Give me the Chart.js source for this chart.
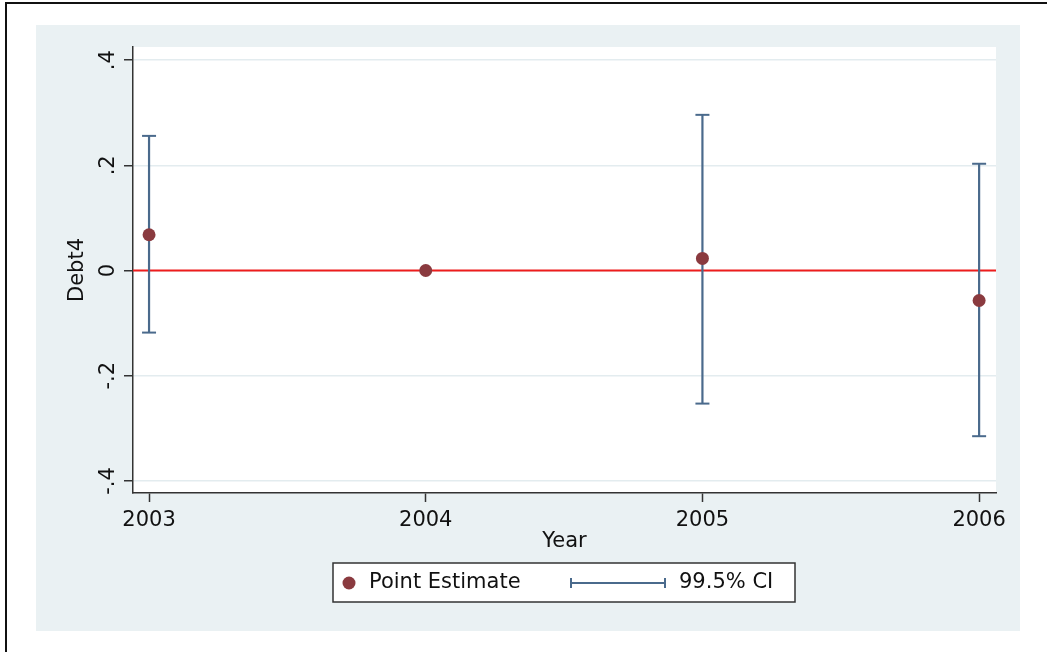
<!DOCTYPE html>
<html>
<head>
<meta charset="utf-8">
<script src="https://cdn.jsdelivr.net/npm/chart.js@4.4.0/dist/chart.umd.min.js"></script>
<style>
  html, body { margin: 0; padding: 0; background: #ffffff; }
  #wrap { position: relative; width: 1047px; height: 652px; }
  #c { position: absolute; left: 0; top: 0; }
  #frame { position: absolute; left: 5px; top: 2px; width: 1100px; height: 700px;
           border-left: 2px solid #111; border-top: 2px solid #111; pointer-events: none; }
</style>
</head>
<body>
<div id="wrap">
  <canvas id="c" width="1047" height="652"></canvas>
  <div id="frame"></div>
</div>
<script>
// ---- data ----
const years = [2003, 2004, 2005, 2006];
const pointEstimates = [0.068, 0.0, 0.023, -0.057];
const ciLow = [-0.118, null, -0.253, -0.315];
const ciHigh = [0.256, null, 0.296, 0.203];
const yTickValues = [-0.4, -0.2, 0, 0.2, 0.4];
const yTickLabels = ['-.4', '-.2', '0', '.2', '.4'];
const xTickLabels = ['2003', '2004', '2005', '2006'];
const yTitle = 'Debt4';
const xTitle = 'Year';
const legendLabels = ['Point Estimate', '99.5% CI'];
const referenceLineValue = 0;

const FONT = 'DejaVu Sans';
const TEXT = '#111111';
const POINT_COLOR = '#8a3a3f';
const CI_COLOR = '#4a6a8c';
const PANEL = '#eaf1f3';

const xMin = 2002.942, xMax = 2006.061;
const yMin = -0.423, yMax = 0.425;

// points
const pointData = years.map((y, i) => ({ x: y, y: pointEstimates[i] }));
// CI segments separated by gaps
const ciData = [];
years.forEach((y, i) => {
  if (ciLow[i] === null) return;
  ciData.push({ x: y, y: ciLow[i] });
  ciData.push({ x: y, y: ciHigh[i] });
  ciData.push({ x: y, y: null });
});
const refData = [{ x: xMin, y: referenceLineValue }, { x: xMax, y: referenceLineValue }];

const bgPlugin = {
  id: 'bg',
  beforeDraw(chart) {
    const ctx = chart.ctx, a = chart.chartArea;
    ctx.save();
    ctx.fillStyle = PANEL;
    ctx.fillRect(36, 25, 1020 - 36, 631 - 25);
    ctx.fillStyle = '#ffffff';
    ctx.fillRect(a.left, a.top, a.right - a.left, a.bottom - a.top);
    ctx.restore();
  },
  afterDraw(chart) {
    const ctx = chart.ctx, ys = chart.scales.y;
    ctx.save();
    // rotated y tick labels
    ctx.fillStyle = TEXT;
    ctx.font = '21px "' + FONT + '"';
    ctx.textAlign = 'center';
    ctx.textBaseline = 'alphabetic';
    yTickValues.forEach((v, i) => {
      const py = ys.getPixelForValue(v);
      ctx.save();
      ctx.translate(114, py);
      ctx.rotate(-Math.PI / 2);
      ctx.fillText(yTickLabels[i], 0, 0);
      ctx.restore();
    });
    // legend
    const lx = 333, ly = 563, lw = 462, lh = 39, cy = ly + lh / 2 + 0.5;
    ctx.fillStyle = '#ffffff';
    ctx.fillRect(lx, ly, lw, lh);
    ctx.strokeStyle = '#333333';
    ctx.lineWidth = 1.5;
    ctx.strokeRect(lx, ly, lw, lh);
    ctx.fillStyle = POINT_COLOR;
    ctx.beginPath();
    ctx.arc(349, cy, 6.5, 0, Math.PI * 2);
    ctx.fill();
    ctx.fillStyle = TEXT;
    ctx.textAlign = 'left';
    ctx.textBaseline = 'middle';
    ctx.fillText(legendLabels[0], 369, cy);
    ctx.strokeStyle = CI_COLOR;
    ctx.lineWidth = 2;
    ctx.beginPath();
    ctx.moveTo(571, cy); ctx.lineTo(665, cy);
    ctx.moveTo(571, cy - 5); ctx.lineTo(571, cy + 5);
    ctx.moveTo(665, cy - 5); ctx.lineTo(665, cy + 5);
    ctx.stroke();
    ctx.fillStyle = TEXT;
    ctx.fillText(legendLabels[1], 679, cy);
    ctx.restore();
  }
};

new Chart(document.getElementById('c'), {
  type: 'scatter',
  data: {
    datasets: [
      {
        label: legendLabels[0], data: pointData, order: 0,
        pointRadius: 6.5, pointHoverRadius: 6.5,
        backgroundColor: POINT_COLOR, borderColor: POINT_COLOR, borderWidth: 0
      },
      {
        type: 'line', label: legendLabels[1], data: ciData, order: 1,
        showLine: true, spanGaps: false, borderColor: CI_COLOR, borderWidth: 2.2,
        pointStyle: 'line', pointRadius: 7, pointBorderColor: CI_COLOR,
        pointBorderWidth: 2, pointBackgroundColor: CI_COLOR, tension: 0
      },
      {
        type: 'line', label: 'ref', data: refData, order: 2,
        borderColor: '#ee1c1c', borderWidth: 2, pointRadius: 0, showLine: true
      }
    ]
  },
  options: {
    responsive: false,
    animation: false,
    events: [],
    layout: { padding: { left: 0, top: 47, right: 51, bottom: 0 } },
    plugins: { legend: { display: false }, tooltip: { enabled: false } },
    scales: {
      x: {
        type: 'linear', min: xMin, max: xMax,
        afterFit(s) { s.height = 159; },
        afterBuildTicks(s) { s.ticks = years.map(v => ({ value: v })); },
        border: { display: true, color: '#333333', width: 1.5 },
        grid: { drawOnChartArea: false, color: 'rgba(0,0,0,0)', tickColor: '#333333', tickLength: 9, tickWidth: 1.5 },
        ticks: {
          color: TEXT, font: { family: FONT, size: 21 }, padding: 6, maxRotation: 0,
          callback: (v) => { const i = years.indexOf(v); return i >= 0 ? xTickLabels[i] : ''; }
        },
        title: { display: true, text: xTitle, color: TEXT, font: { family: FONT, size: 21 }, padding: { top: 0, bottom: 98 } }
      },
      y: {
        type: 'linear', min: yMin, max: yMax,
        afterFit(s) { s.width = 133; },
        afterBuildTicks(s) { s.ticks = yTickValues.map(v => ({ value: v })); },
        border: { display: true, color: '#333333', width: 1.5 },
        grid: { drawOnChartArea: true, color: '#e3ecef', lineWidth: 1.5, tickColor: '#333333', tickLength: 9, tickWidth: 1.5 },
        ticks: { display: true, color: 'rgba(0,0,0,0)', font: { family: FONT, size: 21 } },
        title: { display: true, text: yTitle, color: TEXT, font: { family: FONT, size: 21 }, padding: { top: 65, bottom: 0 } }
      }
    }
  },
  plugins: [bgPlugin]
});
</script>
</body>
</html>
